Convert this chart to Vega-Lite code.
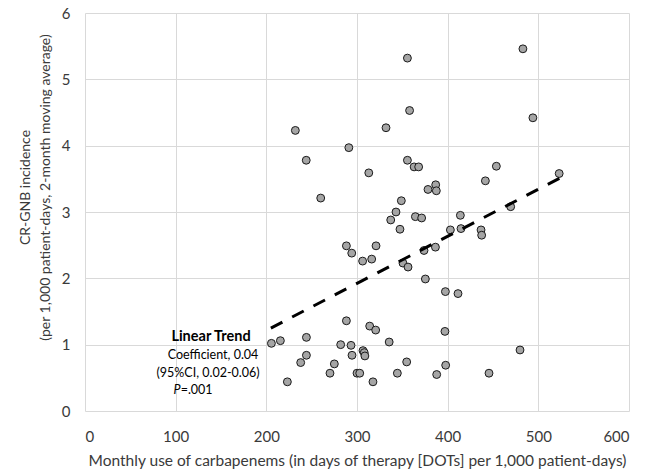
{
  "$schema": "https://vega.github.io/schema/vega-lite/v6.json",
  "width": 544,
  "height": 398,
  "autosize": {"type": "none"},
  "padding": {"left": 85, "top": 13, "right": 26, "bottom": 63},
  "background": "white",
  "config": {
    "view": {"stroke": null},
    "font": "Lato",
    "axis": {
      "grid": true,
      "gridColor": "#d9d9d9",
      "gridWidth": 1,
      "domain": false,
      "ticks": false,
      "labelFont": "Lato",
      "titleFont": "Lato",
      "labelFontSize": 15,
      "labelColor": "#3a3a3a",
      "titleColor": "#3a3a3a",
      "titleFontWeight": "normal"
    }
  },
  "layer": [
    {
      "data": {
        "values": [
          {"use": 232, "inc": 4.23}, {"use": 332, "inc": 4.27}, {"use": 291, "inc": 3.97},
          {"use": 244, "inc": 3.78}, {"use": 313, "inc": 3.59}, {"use": 260, "inc": 3.21},
          {"use": 355.6, "inc": 5.32}, {"use": 483, "inc": 5.46}, {"use": 358, "inc": 4.53},
          {"use": 494, "inc": 4.42}, {"use": 355.6, "inc": 3.78}, {"use": 363, "inc": 3.68},
          {"use": 368, "inc": 3.68}, {"use": 453.7, "inc": 3.69}, {"use": 441.6, "inc": 3.47},
          {"use": 523, "inc": 3.58}, {"use": 386.8, "inc": 3.41}, {"use": 378.3, "inc": 3.34},
          {"use": 387.5, "inc": 3.32}, {"use": 348.9, "inc": 3.17}, {"use": 343, "inc": 3.0},
          {"use": 469.5, "inc": 3.08}, {"use": 337.2, "inc": 2.88}, {"use": 364.4, "inc": 2.93},
          {"use": 371.3, "inc": 2.91}, {"use": 347.4, "inc": 2.74}, {"use": 414, "inc": 2.95},
          {"use": 403, "inc": 2.73}, {"use": 414.7, "inc": 2.75}, {"use": 436.8, "inc": 2.73},
          {"use": 437.5, "inc": 2.65}, {"use": 288.3, "inc": 2.49}, {"use": 294.2, "inc": 2.38},
          {"use": 321, "inc": 2.49}, {"use": 306.2, "inc": 2.26}, {"use": 316.2, "inc": 2.29},
          {"use": 373.9, "inc": 2.42}, {"use": 386.5, "inc": 2.47}, {"use": 350.7, "inc": 2.23},
          {"use": 356.3, "inc": 2.17}, {"use": 375.4, "inc": 1.99}, {"use": 397.5, "inc": 1.8},
          {"use": 411.4, "inc": 1.77}, {"use": 397, "inc": 1.2}, {"use": 479.8, "inc": 0.92},
          {"use": 397.8, "inc": 0.69}, {"use": 387.9, "inc": 0.55}, {"use": 445.6, "inc": 0.57},
          {"use": 288.3, "inc": 1.36}, {"use": 314, "inc": 1.28}, {"use": 320.6, "inc": 1.22},
          {"use": 335.5, "inc": 1.04}, {"use": 205.6, "inc": 1.02}, {"use": 215.5, "inc": 1.06},
          {"use": 244.2, "inc": 1.11}, {"use": 282, "inc": 1.0}, {"use": 293.4, "inc": 0.99},
          {"use": 306.6, "inc": 0.91}, {"use": 308, "inc": 0.88}, {"use": 308.7, "inc": 0.83},
          {"use": 244.2, "inc": 0.84}, {"use": 294.5, "inc": 0.84}, {"use": 237.9, "inc": 0.73},
          {"use": 275, "inc": 0.71}, {"use": 354.8, "inc": 0.74}, {"use": 270.2, "inc": 0.57},
          {"use": 300, "inc": 0.57}, {"use": 303, "inc": 0.57}, {"use": 344.5, "inc": 0.57},
          {"use": 223.2, "inc": 0.44}, {"use": 317.6, "inc": 0.44}
        ]
      },
      "mark": {"type": "point", "shape": "circle", "filled": true, "fill": "#a5a5a5", "stroke": "#1a1a1a", "strokeWidth": 1, "size": 62, "opacity": 1},
      "encoding": {
        "x": {
          "field": "use", "type": "quantitative",
          "scale": {"domain": [0, 600], "nice": false, "zero": true},
          "axis": {
            "values": [0, 100, 200, 300, 400, 500, 600],
            "format": "d",
            "title": "Monthly use of carbapenems (in days of therapy [DOTs] per 1,000 patient-days)",
            "titleFontSize": 15.5,
            "labelPadding": 18,
            "titlePadding": 9
          }
        },
        "y": {
          "field": "inc", "type": "quantitative",
          "scale": {"domain": [0, 6], "nice": false},
          "axis": {
            "values": [0, 1, 2, 3, 4, 5, 6],
            "format": "d",
            "title": ["CR-GNB incidence", "(per 1,000 patient-days, 2-month moving average)"],
            "titleFontSize": 14,
            "labelPadding": 15,
            "titleAngle": -90,
            "titleAlign": "center",
            "titleBaseline": "top",
            "titleX": -67,
            "titleY": 174,
            "titleLineHeight": 20
          }
        }
      }
    },
    {
      "data": {"values": [{"use": 205, "inc": 1.25}, {"use": 525, "inc": 3.52}]},
      "mark": {"type": "line", "stroke": "black", "strokeWidth": 3, "strokeDash": [13, 11]},
      "encoding": {
        "x": {"field": "use", "type": "quantitative"},
        "y": {"field": "inc", "type": "quantitative"}
      }
    },
    {
      "data": {"values": [{"use": 139, "inc": 1.12, "label": "Linear Trend"}]},
      "mark": {"type": "text", "align": "center", "baseline": "middle", "fontSize": 14.5, "fontWeight": "bold", "color": "black", "font": "Lato"},
      "encoding": {
        "x": {"field": "use", "type": "quantitative"},
        "y": {"field": "inc", "type": "quantitative"},
        "text": {"field": "label"}
      }
    },
    {
      "data": {"values": [
        {"use": 141.2, "inc": 0.84, "label": "Coefficient, 0.04"},
        {"use": 135.7, "inc": 0.58, "label": "(95%CI, 0.02-0.06)"}
      ]},
      "mark": {"type": "text", "align": "center", "baseline": "middle", "fontSize": 12.5, "color": "black", "font": "Lato"},
      "encoding": {
        "x": {"field": "use", "type": "quantitative"},
        "y": {"field": "inc", "type": "quantitative"},
        "text": {"field": "label"}
      }
    },
    {
      "data": {"values": [{"use": 105.5, "inc": 0.32, "label": "P"}]},
      "mark": {"type": "text", "align": "right", "baseline": "middle", "fontSize": 12.5, "fontStyle": "italic", "color": "black", "font": "Lato"},
      "encoding": {
        "x": {"field": "use", "type": "quantitative"},
        "y": {"field": "inc", "type": "quantitative"},
        "text": {"field": "label"}
      }
    },
    {
      "data": {"values": [{"use": 105.5, "inc": 0.32, "label": "=.001"}]},
      "mark": {"type": "text", "align": "left", "baseline": "middle", "fontSize": 12.5, "color": "black", "font": "Lato"},
      "encoding": {
        "x": {"field": "use", "type": "quantitative"},
        "y": {"field": "inc", "type": "quantitative"},
        "text": {"field": "label"}
      }
    }
  ]
}
